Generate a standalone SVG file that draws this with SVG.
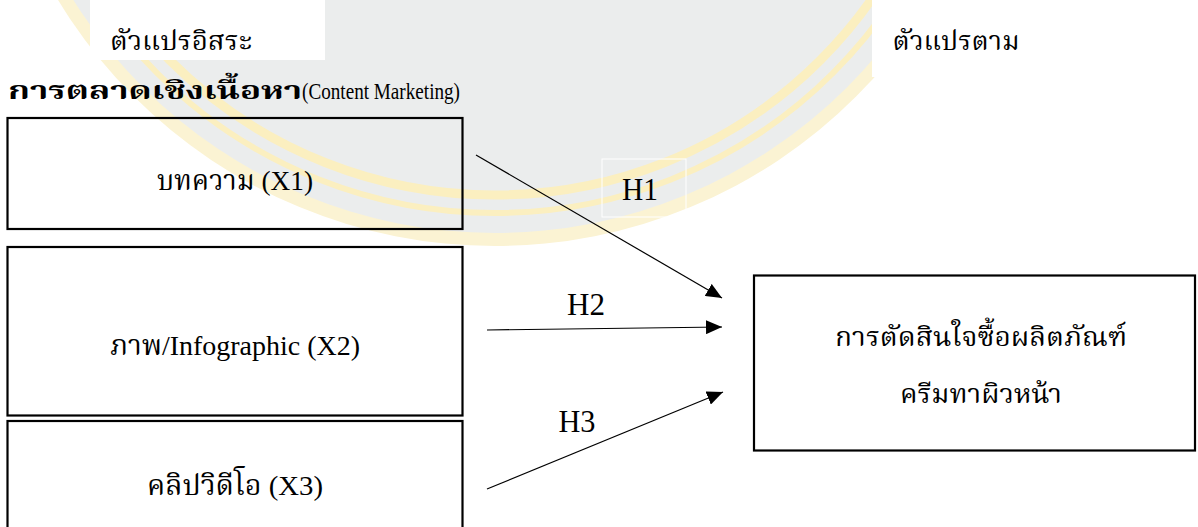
<svg xmlns="http://www.w3.org/2000/svg" width="1198" height="527" viewBox="0 0 1198 527">
<style>
.t{font-family:"Liberation Serif","Noto Serif Thai","Noto Sans Thai","Garuda","Loma",serif;fill:#000;}
.box{fill:none;stroke:#000;stroke-width:2.2;}
.edge{stroke:#000;stroke-width:1.2;fill:none;marker-end:url(#arrow);}
.ring{fill:none;stroke:#fbefc0;}
</style>
<defs>
<marker id="arrow" markerUnits="userSpaceOnUse" markerWidth="17" markerHeight="14" refX="16" refY="7" orient="auto">
<path d="M0,0 L16,7 L0,14 z" fill="#000"/>
</marker>
</defs>
<rect width="1198" height="527" fill="#fff"/>
<g id="watermark">
<circle cx="495" cy="-265" r="511" fill="#fbf3d3"/>
<circle cx="495" cy="-265" r="498" fill="#ebeded"/>
<circle class="ring" cx="495" cy="-265" r="478" stroke-width="6"/>
<circle class="ring" cx="495" cy="-265" r="460" stroke-width="9"/>
</g>
<g id="header-independent">
<rect x="90" y="0" width="235" height="60" fill="#fff"/>
<text class="t" x="181" y="50" font-size="26" text-anchor="middle" textLength="142" lengthAdjust="spacingAndGlyphs">ตัวแปรอิสระ</text>
</g>
<g id="header-dependent">
<rect x="872" y="0" width="326" height="77" fill="#fff"/>
<text class="t" x="956" y="50" font-size="26" text-anchor="middle" textLength="127" lengthAdjust="spacingAndGlyphs">ตัวแปรตาม</text>
</g>
<g id="title">
<text class="t" x="8" y="99" font-size="25" font-weight="bold" textLength="294" lengthAdjust="spacingAndGlyphs">การตลาดเชิงเนื้อหา</text>
<text class="t" x="302" y="99" font-size="23" textLength="158" lengthAdjust="spacingAndGlyphs">(Content Marketing)</text>
</g>
<g id="node-x1">
<rect class="box" x="7.5" y="118" width="455" height="111"/>
<text class="t" x="235" y="190" font-size="28" text-anchor="middle" textLength="156" lengthAdjust="spacingAndGlyphs">บทความ (X1)</text>
</g>
<g id="node-x2">
<rect class="box" x="7.5" y="247" width="455" height="168.5"/>
<text class="t" x="235" y="355" font-size="28" text-anchor="middle" textLength="250" lengthAdjust="spacingAndGlyphs">ภาพ/Infographic (X2)</text>
</g>
<g id="node-x3">
<rect class="box" x="7.5" y="421" width="455" height="120"/>
<text class="t" x="235" y="495" font-size="28" text-anchor="middle" textLength="176" lengthAdjust="spacingAndGlyphs">คลิปวิดีโอ (X3)</text>
</g>
<g id="node-y">
<rect class="box" x="754" y="275.5" width="441" height="175"/>
<text class="t" x="981" y="346" font-size="27" text-anchor="middle" textLength="292" lengthAdjust="spacingAndGlyphs">การตัดสินใจซื้อผลิตภัณฑ์</text>
<text class="t" x="981" y="403" font-size="27" text-anchor="middle" textLength="162" lengthAdjust="spacingAndGlyphs">ครีมทาผิวหน้า</text>
</g>
<g id="connectors">
<g id="edge-h1">
<rect x="602" y="159" width="84" height="58" fill="none" stroke="#fff" stroke-width="1"/>
<line class="edge" x1="476" y1="155" x2="722" y2="298"/>
<text class="t" x="640" y="200" font-size="31" text-anchor="middle" textLength="36" lengthAdjust="spacingAndGlyphs">H1</text>
</g>
<g id="edge-h2">
<line class="edge" x1="487" y1="330" x2="722" y2="327"/>
<text class="t" x="586" y="315" font-size="31" text-anchor="middle" textLength="38" lengthAdjust="spacingAndGlyphs">H2</text>
</g>
<g id="edge-h3">
<line class="edge" x1="487" y1="489" x2="723" y2="392"/>
<text class="t" x="577" y="432" font-size="31" text-anchor="middle" textLength="37" lengthAdjust="spacingAndGlyphs">H3</text>
</g>
</g>
</svg>
